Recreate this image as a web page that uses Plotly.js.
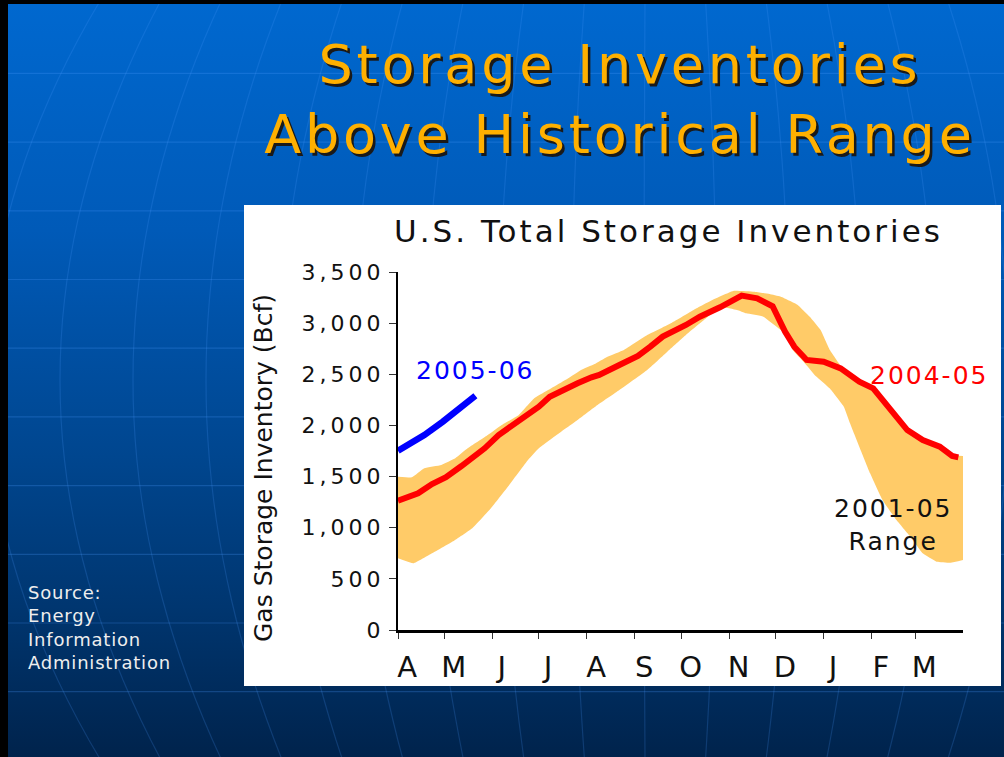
<!DOCTYPE html>
<html>
<head>
<meta charset="utf-8">
<script src="https://cdn.plot.ly/plotly-3.0.1.min.js"></script>
<style>
html,body{margin:0;padding:0;background:#000;}
#wrap{position:relative;width:1004px;height:757px;overflow:hidden;background:#000;}
#slide{position:absolute;left:8px;top:4px;width:996px;height:753px;}
#chart{position:absolute;left:0;top:0;width:1004px;height:757px;}
g.annotation[data-index="0"] text{letter-spacing:3.8px;}
g.annotation[data-index="1"] text{letter-spacing:3px;}
g.annotation[data-index="3"] text, g.annotation[data-index="4"] text, g.annotation[data-index="5"] text{letter-spacing:2px;}
g.annotation[data-index="6"] text{letter-spacing:0.8px;}
.ytick text{letter-spacing:4px;}
</style>
</head>
<body>
<div id="wrap"><div id="slide"></div><div id="chart"></div></div>
<script>
// ---- data ----
const monthStartDay = [0, 30, 61, 91, 122, 153, 183, 214, 244, 275, 306, 334];
const monthLabel = ['A', 'M', 'J', 'J', 'A', 'S', 'O', 'N', 'D', 'J', 'F', 'M'];

// 2004-05 season (day counted from April 1)
const red0405Day = [0, 13, 22, 31, 41, 50, 56, 65, 76, 84, 91, 98, 108, 116, 125, 130, 143, 155, 163, 171, 186, 195, 208, 222, 232, 242, 250, 256, 264, 275, 286, 298, 307, 316, 329, 339, 350, 358, 362];
const red0405Val = [1264, 1336, 1427, 1493, 1603, 1701, 1776, 1906, 2021, 2119, 2183, 2281, 2363, 2412, 2471, 2493, 2591, 2679, 2770, 2868, 2982, 3063, 3155, 3269, 3243, 3165, 2917, 2770, 2640, 2623, 2558, 2428, 2363, 2200, 1955, 1858, 1792, 1701, 1688];

// 2005-06 season
const blue0506Day = [0, 17, 29, 40, 50];
const blue0506Val = [1752, 1906, 2037, 2160, 2290];

// 2001-05 range, upper bound
const rangeHighDay = [0, 9, 17, 28, 37, 45, 58, 67, 78, 88, 99, 110, 118, 127, 135, 146, 161, 177, 191, 204, 217, 230, 240, 247, 258, 266, 273, 279, 288, 296, 307, 316, 329, 339, 350, 358, 365];
const rangeHighVal = [1499, 1493, 1581, 1613, 1679, 1776, 1906, 2004, 2102, 2265, 2363, 2461, 2540, 2600, 2670, 2738, 2884, 3005, 3129, 3233, 3317, 3308, 3285, 3260, 3180, 3063, 2933, 2738, 2542, 2460, 2380, 2215, 1968, 1870, 1805, 1712, 1700];

// 2001-05 range, lower bound
const rangeLowDay = [0, 10, 22, 37, 48, 60, 71, 84, 91, 104, 116, 128, 143, 161, 174, 186, 199, 208, 219, 225, 236, 245, 250, 255, 262, 270, 279, 288, 292, 298, 305, 313, 322, 331, 339, 348, 357, 365];
const rangeLowVal = [701, 652, 750, 880, 994, 1190, 1401, 1662, 1776, 1923, 2053, 2190, 2346, 2542, 2721, 2884, 3047, 3161, 3129, 3096, 3063, 2960, 2900, 2738, 2623, 2480, 2360, 2183, 2021, 1792, 1532, 1271, 1075, 912, 750, 668, 658, 684];

// ---- slide background (decorative) ----
(function(){
  let s = '<svg xmlns="http://www.w3.org/2000/svg" width="996" height="753" viewBox="8 4 996 753">';
  s += '<defs><linearGradient id="g" x1="0" y1="0" x2="0" y2="1">' +
       '<stop offset="0" stop-color="#0068cf"/><stop offset="0.3" stop-color="#005ab8"/>' +
       '<stop offset="0.6" stop-color="#00468f"/><stop offset="0.8" stop-color="#003670"/>' +
       '<stop offset="1" stop-color="#00234c"/></linearGradient></defs>';
  s += '<rect x="8" y="4" width="996" height="753" fill="url(#g)"/>';
  for (let k = 1; k <= 11; k++) {
    const y = 4.7 + 68.7 * k;
    s += '<line x1="8" x2="1004" y1="' + y + '" y2="' + y + '" stroke="#4a9cff" stroke-opacity="0.25" stroke-width="1.2"/>';
  }
  for (let i = -1; i <= 14; i++) {
    const x0 = 60 + 73 * i;
    const kk = 0.0007 * (650 - x0) / 590;
    let d = '';
    for (let y = 0; y <= 760; y += 20) {
      const x = x0 + kk * (y - 380) * (y - 380);
      d += (y === 0 ? 'M' : 'L') + x.toFixed(1) + ' ' + y;
    }
    s += '<path d="' + d + '" fill="none" stroke="#4a9cff" stroke-opacity="0.2" stroke-width="1.2"/>';
  }
  s += '</svg>';
  document.getElementById('slide').style.background = 'url("data:image/svg+xml,' + encodeURIComponent(s) + '")';
})();

// ---- chart ----
const L = 398, R = 963, T = 272, B = 630;
const px = x => (x - L) / (R - L);
const py = y => (B - y) / (B - T);
const FONT = 'DejaVu Sans';
const labelOffsetDays = 6;

const traces = [
  {x: rangeLowDay, y: rangeLowVal, type: 'scatter', mode: 'lines',
   line: {width: 0, shape: 'spline', smoothing: 0.3}, hoverinfo: 'skip'},
  {x: rangeHighDay, y: rangeHighVal, type: 'scatter', mode: 'lines', fill: 'tonexty',
   fillcolor: '#FFCB68', line: {width: 0, shape: 'spline', smoothing: 0.3}, hoverinfo: 'skip'},
  {x: red0405Day, y: red0405Val, type: 'scatter', mode: 'lines',
   line: {color: '#FF0000', width: 6}},
  {x: blue0506Day, y: blue0506Val, type: 'scatter', mode: 'lines', xaxis: 'x2', yaxis: 'y',
   line: {color: '#0000FF', width: 6.5}}
];

const layout = {
  width: 1004, height: 757,
  margin: {l: L, r: 1004 - R, t: T, b: 757 - B, pad: 0},
  paper_bgcolor: 'rgba(0,0,0,0)', plot_bgcolor: 'rgba(0,0,0,0)',
  showlegend: false,
  font: {family: FONT, color: '#111'},
  xaxis: {range: [0, 365], tickmode: 'array', tickvals: monthStartDay, showticklabels: false,
          ticks: 'outside', ticklen: 6, tickwidth: 1, tickcolor: '#333',
          showline: true, linewidth: 3, linecolor: '#000', showgrid: false, zeroline: false, fixedrange: true},
  xaxis2: {range: [0, 365], overlaying: 'x', anchor: 'y', side: 'bottom', tickmode: 'array',
           tickvals: monthStartDay.map(d => d + labelOffsetDays), ticktext: monthLabel,
           ticks: '', ticklabelstandoff: 17, showline: false, showgrid: false, zeroline: false, fixedrange: true,
           tickfont: {family: FONT, size: 29, color: '#111'}},
  yaxis: {range: [0, 3500], tickmode: 'linear', tick0: 0, dtick: 500, tickformat: ',',
          ticks: 'outside', ticklen: 7, tickwidth: 1, tickcolor: '#333',
          showline: true, linewidth: 2, linecolor: '#000', showgrid: false, zeroline: false, fixedrange: true,
          tickfont: {family: FONT, size: 22, color: '#111'}},
  shapes: [{type: 'rect', xref: 'paper', yref: 'paper', x0: px(244), x1: px(1001), y0: py(686), y1: py(205),
            fillcolor: '#ffffff', line: {width: 0}, layer: 'below'}],
  annotations: [
    {text: 'Storage Inventories<br>Above Historical Range', xref: 'paper', yref: 'paper', x: px(620), y: py(100),
     xanchor: 'center', yanchor: 'middle', showarrow: false,
     font: {family: FONT, size: 54, color: '#FFB000', shadow: '2.5px 2.5px 0px #1a1a1a'}},
    {text: 'U.S. Total Storage Inventories', xref: 'paper', yref: 'paper', x: px(668), y: py(231),
     xanchor: 'center', yanchor: 'middle', showarrow: false,
     font: {family: FONT, size: 31, color: '#111'}},
    {text: 'Gas Storage Inventory (Bcf)', xref: 'paper', yref: 'paper', x: px(263), y: py(468),
     xanchor: 'center', yanchor: 'middle', showarrow: false, textangle: -90,
     font: {family: FONT, size: 25, color: '#111'}},
    {text: '2005-06', xref: 'paper', yref: 'paper', x: px(475), y: py(370),
     xanchor: 'center', yanchor: 'middle', showarrow: false,
     font: {family: FONT, size: 25, color: '#0000FF'}},
    {text: '2004-05', xref: 'paper', yref: 'paper', x: px(929), y: py(375),
     xanchor: 'center', yanchor: 'middle', showarrow: false,
     font: {family: FONT, size: 25, color: '#FF0000'}},
    {text: '2001-05<br>Range', xref: 'paper', yref: 'paper', x: px(893), y: py(525),
     xanchor: 'center', yanchor: 'middle', showarrow: false,
     font: {family: FONT, size: 25, color: '#111'}},
    {text: 'Source:<br>Energy<br>Information<br>Administration', xref: 'paper', yref: 'paper', x: px(26), y: py(627),
     xanchor: 'left', yanchor: 'middle', align: 'left', showarrow: false,
     font: {family: FONT, size: 18, color: '#EEEEEE'}}
  ]
};

Plotly.newPlot('chart', traces, layout, {displayModeBar: false, staticPlot: true});
</script>
</body>
</html>
